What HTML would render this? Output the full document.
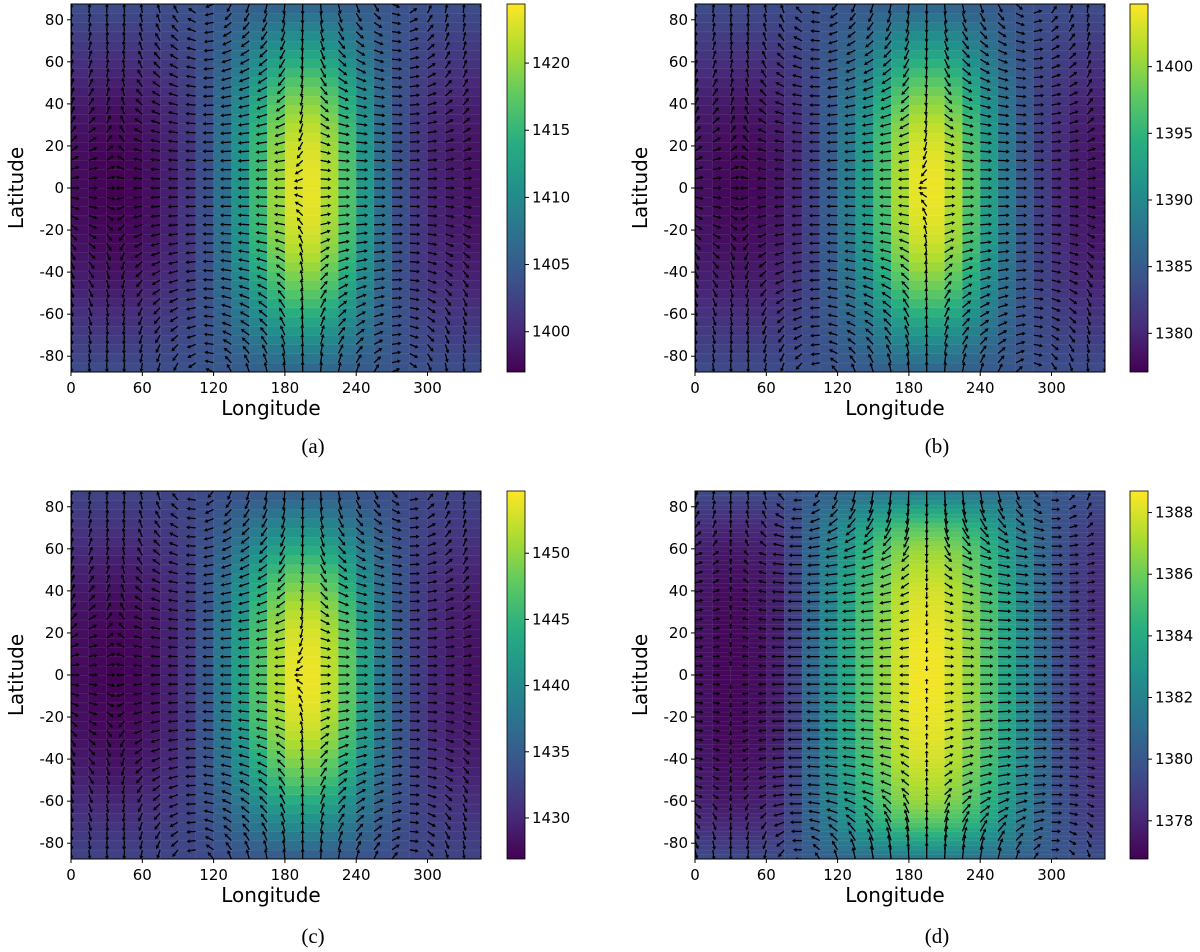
<!DOCTYPE html>
<html><head><meta charset="utf-8">
<style>
html,body{margin:0;padding:0;background:#fff;}
svg{display:block;}
.tk{font-family:"DejaVu Sans","Liberation Sans",sans-serif;font-size:15px;fill:#000;}
.al{font-family:"DejaVu Sans","Liberation Sans",sans-serif;font-size:20px;fill:#000;}
.cap{font-family:"Liberation Serif",serif;font-size:21px;fill:#000;}
</style></head>
<body>
<svg id="fig" width="1200" height="952" viewBox="0 0 1200 952" xmlns="http://www.w3.org/2000/svg">
<defs>
<linearGradient id="vir" x1="0" y1="1" x2="0" y2="0">
<stop offset="0" stop-color="#440154"/><stop offset="0.125" stop-color="#472d7b"/><stop offset="0.25" stop-color="#3b528b"/><stop offset="0.375" stop-color="#2c728e"/><stop offset="0.5" stop-color="#21918c"/><stop offset="0.625" stop-color="#28ae80"/><stop offset="0.75" stop-color="#5ec962"/><stop offset="0.875" stop-color="#addc30"/><stop offset="1" stop-color="#fde725"/>
</linearGradient>
</defs>
</svg>
<script>
// Longitudes of grid points (degrees)
const lons = [0,15,30,45,60,75,90,105,120,135,150,165,180,195,210,225,240,255,270,285,300,315,330,345];
// Equatorial values per longitude for each panel
const eqA = [1398,1397.5,1397,1397,1397.5,1398.5,1400,1402,1405,1409,1413,1418,1422,1424,1423,1419,1414,1409,1405,1402,1400,1399,1398.5,1398];
const eqB = [1378.5,1378,1377.5,1377.5,1378,1379,1381,1383.5,1386.5,1390,1394,1399,1403,1404.5,1403.5,1399.5,1394.5,1390,1386,1383,1381,1379.5,1378.5,1378.5];
const eqC = [1428,1427.5,1427,1427,1427.5,1428.5,1430,1432.5,1436,1440,1444.5,1449,1453,1454.5,1453.5,1450,1445,1440,1436,1432.5,1430.5,1429,1428.5,1428];
const eqD = [1377.5,1377,1376.9,1377,1377.3,1378,1380,1381.5,1383,1384.5,1386,1387.3,1388.3,1388.7,1388.3,1387.3,1386,1384.5,1383,1381.5,1380,1379,1378.3,1378];
// Polar values
const poleVals = [1404, 1384, 1433, 1380];
// Latitudinal weights at 0,10,...,90 degrees
const latNodes = [0,10,20,30,40,50,60,70,80,90];
const latWabc = [1,0.99,0.96,0.9,0.8,0.68,0.52,0.36,0.2,0.05];
const latWd = [1,0.995,0.98,0.96,0.93,0.87,0.8,0.65,0.4,0.1];
// Colorbar ranges and ticks
const cbMin = [1397.0, 1377.1, 1426.9, 1376.76];
const cbMax = [1424.4, 1404.7, 1454.7, 1388.7];
const cbTicksA = [1400,1405,1410,1415,1420];
const cbTicksB = [1380,1385,1390,1395,1400];
const cbTicksC = [1430,1435,1440,1445,1450];
const cbTicksD = [1378,1380,1382,1384,1386,1388];
const xTicks = [0,60,120,180,240,300];
const yTicks = [-80,-60,-40,-20,0,20,40,60,80];
const captions = ['(a)','(b)','(c)','(d)'];

const NS='http://www.w3.org/2000/svg';
const svg=document.getElementById('fig');
const defs=svg.querySelector('defs');
const vir=[[68,1,84],[71,45,123],[59,82,139],[44,114,142],[33,145,140],[40,174,128],[94,201,98],[173,220,48],[253,231,37]];
function cmap(t){t=Math.max(0,Math.min(1,t));const f=t*8,i=Math.min(7,Math.floor(f)),r=f-i;const a=vir[i],b=vir[i+1];
return `rgb(${Math.round(a[0]+(b[0]-a[0])*r)},${Math.round(a[1]+(b[1]-a[1])*r)},${Math.round(a[2]+(b[2]-a[2])*r)})`;}
function mk(tag,attrs,parent){const e=document.createElementNS(NS,tag);for(const k in attrs)e.setAttribute(k,attrs[k]);(parent||svg).appendChild(e);return e;}
function wAt(lat,w){const a=Math.min(90,Math.abs(lat));const i=Math.min(8,Math.floor(a/10));const r=(a-latNodes[i])/10;return w[i]+(w[i+1]-w[i])*r;}

const panels=[
 {eq:eqA,w:latWabc,x0:71,x1:481,y0:4,y1:372,cx:507,ticks:cbTicksA,nlat:41,astep:1,Lmin:8,Lvar:4,pw:0.5,cap:[313,453]},
 {eq:eqB,w:latWabc,x0:695,x1:1105,y0:4,y1:372,cx:1130,ticks:cbTicksB,nlat:41,astep:1,Lmin:8,Lvar:4,pw:0.5,cap:[937,453]},
 {eq:eqC,w:latWabc,x0:71,x1:481,y0:491,y1:859,cx:507,ticks:cbTicksC,nlat:41,astep:1,Lmin:8,Lvar:4,pw:0.5,cap:[313,943]},
 {eq:eqD,w:latWd,x0:695,x1:1105,y0:491,y1:859,cx:1130,ticks:cbTicksD,nlat:81,astep:2,Lmin:5,Lvar:12,pw:0.8,cap:[937,943]}
];
const LATMAX=87.5;

panels.forEach((p,pi)=>{
 const cp=mk('clipPath',{id:'clip'+pi},defs);
 mk('rect',{x:p.x0,y:p.y0,width:p.x1-p.x0,height:p.y1-p.y0},cp);
 const g=mk('g',{});
 
 
 const xs=v=>p.x0+(v-lons[0])/(lons[lons.length-1]-lons[0])*(p.x1-p.x0);
 const ys=v=>p.y0+(LATMAX-v)/(2*LATMAX)*(p.y1-p.y0);
 const lats=[];for(let j=0;j<p.nlat;j++)lats.push(-LATMAX+j*2*LATMAX/(p.nlat-1));
 const pole=poleVals[pi];
 const val=(i,lat)=>pole+(p.eq[i]-pole)*wAt(lat,p.w);
 const vmin=cbMin[pi],vmax=cbMax[pi];
 const hm=mk('g',{},g);
 
 
 for(let i=0;i<lons.length-1;i++){for(let j=0;j<p.nlat-1;j++){
  const v=(val(i,lats[j])+val(i+1,lats[j])+val(i,lats[j+1])+val(i+1,lats[j+1]))/4;
  const x=xs(lons[i]),x2=xs(lons[i+1]),y=ys(lats[j+1]),y2=ys(lats[j]);
  const r=mk('rect',{x:x.toFixed(2),y:y.toFixed(2),width:(x2-x+0.3).toFixed(2),height:(y2-y+0.3).toFixed(2),fill:cmap((v-vmin)/(vmax-vmin)),stroke:'rgba(255,255,255,0.12)','stroke-width':0.5},hm);
  
  
 }}
 const qv=mk('g',{'clip-path':`url(#clip${pi})`},g);
 
 
 const dxp=(p.x1-p.x0)/(lons.length-1),dyp=(p.y1-p.y0)/(p.nlat-1);
 const n=lons.length;const vecs=[];let mmax=0;
 for(let i=0;i<n;i++){for(let j=0;j<p.nlat;j+=p.astep){
  const ip=(i+1)%n,im=(i-1+n)%n;
  const gx=(val(ip,lats[j])-val(im,lats[j]))/(2*dxp);
  const jp=Math.min(p.nlat-1,j+1),jm=Math.max(0,j-1);
  const gy=(val(i,lats[jp])-val(i,lats[jm]))/((jp-jm)*dyp);
  const m=Math.hypot(gx,gy);mmax=Math.max(mmax,m);vecs.push([i,j,-gx,gy,m]);
 }}
 vecs.forEach(([i,j,ux,uy,m])=>{
  if(m<1e-9)return;
  const len=p.Lmin+p.Lvar*Math.pow(m/mmax,p.pw);
  const ex=ux/m,ey=uy/m;const X=xs(lons[i]),Y=ys(lats[j]);
  const hx=X+ex*len,hy=Y-ey*len;const hl=Math.min(3.5,len*0.4),hw=2;
  const bx=hx-ex*hl,by=hy+ey*hl;const nx=-ey,ny=-ex;
  const a=mk('path',{d:`M${X.toFixed(1)},${Y.toFixed(1)}L${bx.toFixed(1)},${by.toFixed(1)}`,stroke:'#000','stroke-width':1.3,fill:'none'},qv);
  
  
  const h=mk('path',{d:`M${hx.toFixed(1)},${hy.toFixed(1)}L${(bx+nx*hw).toFixed(1)},${(by+ny*hw).toFixed(1)}L${(bx-nx*hw).toFixed(1)},${(by-ny*hw).toFixed(1)}Z`,fill:'#000'},qv);
  
  
 });
 const fr=mk('rect',{x:p.x0,y:p.y0,width:p.x1-p.x0,height:p.y1-p.y0,fill:'none',stroke:'#000','stroke-width':1},g);
 
 
 xTicks.forEach(t=>{const x=xs(t);
  mk('line',{x1:x,x2:x,y1:p.y1,y2:p.y1+4,stroke:'#000'},g);
  const tx=mk('text',{x:x,y:p.y1+21,'text-anchor':'middle',class:'tk'},g);tx.textContent=t;
  
  });
 yTicks.forEach(t=>{const y=ys(t);
  mk('line',{x1:p.x0-4,x2:p.x0,y1:y,y2:y,stroke:'#000'},g);
  const tx=mk('text',{x:p.x0-7,y:y+5,'text-anchor':'end',class:'tk'},g);tx.textContent=t;
  
  });
 const xl=mk('text',{x:(p.x0+p.x1)/2-5,y:p.y1+43,'text-anchor':'middle',class:'al'},g);xl.textContent='Longitude';
 
 
 const lx=p.x0-48,ly=(p.y0+p.y1)/2;
 const yl=mk('text',{x:lx,y:ly,'text-anchor':'middle',class:'al',transform:`rotate(-90 ${lx} ${ly})`},g);yl.textContent='Latitude';
 
 
 const cb=mk('g',{},g);
 
 
 mk('rect',{x:p.cx,y:p.y0,width:18,height:p.y1-p.y0,fill:'url(#vir)',stroke:'#000','stroke-width':0.8},cb);
 const cs=v=>p.y1-(v-vmin)/(vmax-vmin)*(p.y1-p.y0);
 p.ticks.forEach(t=>{const y=cs(t);
  mk('line',{x1:p.cx+18,x2:p.cx+22,y1:y,y2:y,stroke:'#000'},cb);
  const tx=mk('text',{x:p.cx+25,y:y+5,class:'tk'},cb);tx.textContent=t;
  
  });
 const c=mk('text',{x:p.cap[0],y:p.cap[1],'text-anchor':'middle',class:'cap'},g);c.textContent=captions[pi];
 
 
});
</script>
</body></html>
